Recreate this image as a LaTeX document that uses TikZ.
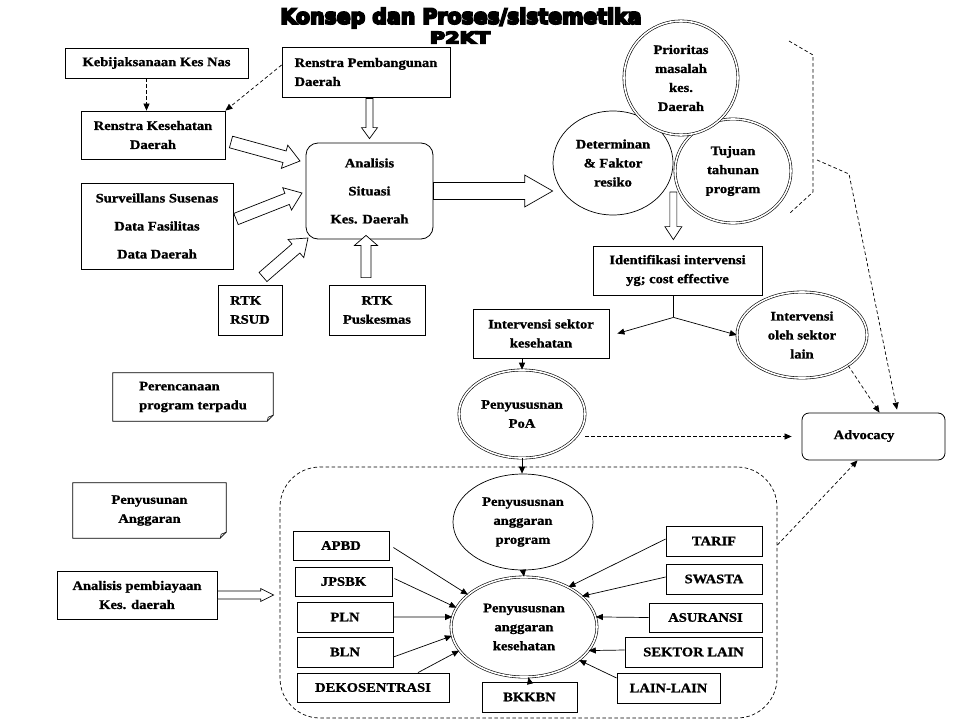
\documentclass[tikz,border=0pt]{standalone}
\usepackage{fontspec}
\usepackage{graphicx}
\setmainfont{Liberation Serif}[FakeStretch=1.12,FakeBold=1.2]
\newfontfamily\titlefont{DejaVu Sans}[FakeBold=9]
\usetikzlibrary{calc,shapes.geometric,arrows.meta}
\tikzset{
  every node/.style={font=\fontsize{13}{19}\selectfont\bfseries},
  box/.style={draw, line width=0.8pt, inner sep=1pt, align=center},
  rbox/.style={box, rounded corners=#1},
  circ/.style={ellipse, draw, fill=white, line width=0.7pt, inner sep=0pt, align=center},
  dcirc/.style={ellipse, draw, fill=white, double, double distance=1.6pt, line width=0.6pt, inner sep=0pt, align=center},
  notebox/.style={inner sep=1pt, align=center},
  dsh/.style={dash pattern=on 3.5pt off 2.5pt, line width=0.7pt},
  tip/.style={-{Triangle[length=7pt,width=6pt]}},
  con/.style={line width=0.7pt},
  barrowstyle/.style={draw, fill=white, line width=0.7pt, line join=miter},
}
\newcommand\barrow[5]{%
  \coordinate (bh) at ($(#2)!#5!(#1)$);
  \draw[barrowstyle] ($(#1)!#3!90:(#2)$) -- ($(bh)!#3!90:(#2)$) -- ($(bh)!#4!90:(#2)$) -- (#2) -- ($(bh)!#4!-90:(#2)$) -- ($(bh)!#3!-90:(#2)$) -- ($(#1)!#3!-90:(#2)$) -- cycle;
}
\newcommand\notedraw[1]{%
  \draw[line width=0.7pt] (#1.north west) -- (#1.north east) -- ([yshift=6pt]#1.south east) -- ([xshift=-6pt]#1.south east) -- (#1.south west) -- cycle;
  \draw[line width=0.6pt] ([yshift=6pt]#1.south east) -- ([xshift=-5pt,yshift=4pt]#1.south east) -- ([xshift=-6pt]#1.south east);
}
\begin{document}
\begin{tikzpicture}[x=1pt,y=-1pt]
\useasboundingbox[fill=white] (0,0) rectangle (960,720);

% title
\node[inner sep=0pt] (title1) at (461,18) {\resizebox{361pt}{16pt}{\titlefont\bfseries Konsep dan Proses/sistemetika}};
\node[inner sep=0pt] (title2) at (460,37.5) {\resizebox{60pt}{12pt}{\titlefont\bfseries P2KT}};

% upper left boxes
\node[box, minimum width=183, minimum height=30] (keb) at (156.5,63) {Kebijaksanaan Kes Nas};
\node[box, minimum width=168, minimum height=50, align=left] (renpem) at (366,72) {Renstra Pembangunan\\Daerah};
\node[box, minimum width=144, minimum height=48] (renkes) at (153,135) {Renstra Kesehatan\\Daerah};
\node[box, minimum width=152, minimum height=86] (surv) at (157,226) {Surveillans Susenas\\[9pt]Data Fasilitas\\[9pt]Data Daerah};
\node[rbox=12pt, minimum width=127, minimum height=96] (anal) at (369.5,191) {Analisis\\[9pt]Situasi\\[9pt]Kes. Daerah};
\node[box, minimum width=64, minimum height=50, align=left] (rsud) at (250,310) {RTK\\RSUD};
\node[box, minimum width=96, minimum height=50] (rpus) at (377,310) {RTK\\Puskesmas};

% circles
\node[circ, minimum width=120, minimum height=104] (det) at (613,163) {Determinan\\\& Faktor\\resiko};
\node[dcirc, minimum width=116, minimum height=104] (tuj) at (733,171) {Tujuan\\tahunan\\program};
\node[dcirc, minimum width=114, minimum height=114] (prior) at (681,78) {Prioritas\\masalah\\kes.\\Daerah};

% middle right
\node[box, minimum width=169, minimum height=49] (ident) at (677.5,270.5) {Identifikasi intervensi\\yg; cost effective};
\node[box, minimum width=136, minimum height=49] (isk) at (541,333.5) {Intervensi sektor\\kesehatan};
\node[dcirc, minimum width=130, minimum height=86] (iol) at (802,335) {Intervensi\\oleh sektor\\lain};
\node[dcirc, minimum width=126, minimum height=88] (poa) at (522,414) {Penyususnan\\PoA};
\node[rbox=7pt, minimum width=143, minimum height=47] (adv) at (873.5,436.5) {};
\node (advt) at (864,436) {Advocacy};

% notes
\node[notebox, minimum width=160, minimum height=48, align=left] (peren) at (193,397) {Perencanaan\\program terpadu};
\notedraw{peren}
\node[notebox, minimum width=153, minimum height=55] (penyang) at (149.5,510.5) {Penyusunan\\Anggaran};
\notedraw{penyang}
\node[box, minimum width=160, minimum height=48] (anpem) at (137,595) {Analisis pembiayaan\\Kes. daerah};

% region
\node[draw, dsh, rounded corners=40pt, minimum width=497, minimum height=251, inner sep=0pt] (region) at (528.5,592.5) {};

% lower ellipses
\node[circ, minimum width=140, minimum height=96] (prog) at (523,522) {Penyususnan\\anggaran\\program};
\node[dcirc, minimum width=146, minimum height=100] (kes) at (524,627) {Penyususnan\\anggaran\\kesehatan};

% source boxes
\node[box, minimum width=96, minimum height=29] (apbd) at (341,545.5) {APBD};
\node[box, minimum width=97, minimum height=29] (jpsbk) at (343.5,581.5) {JPSBK};
\node[box, minimum width=96, minimum height=30] (pln) at (345,617) {PLN};
\node[box, minimum width=96, minimum height=30] (bln) at (345,652) {BLN};
\node[box, minimum width=152, minimum height=29] (deko) at (373,687.5) {DEKOSENTRASI};
\node[box, minimum width=96, minimum height=30] (tarif) at (714,541) {TARIF};
\node[box, minimum width=96, minimum height=30] (swasta) at (714,579) {SWASTA};
\node[box, minimum width=113, minimum height=29] (asur) at (705.5,617.5) {ASURANSI};
\node[box, minimum width=137, minimum height=30] (sektor) at (693.5,652) {SEKTOR LAIN};
\node[box, minimum width=103, minimum height=30] (lain) at (668.5,688) {LAIN-LAIN};
\node[box, minimum width=95, minimum height=30] (bkkbn) at (529.5,697) {BKKBN};

% block arrows
\coordinate (a1s) at ([yshift=-1pt]renpem.south -| anal.north);
\coordinate (a1e) at ([yshift=4pt]anal.north);
\barrow{a1s}{a1e}{3.5pt}{8pt}{11pt}
\coordinate (a2s) at (231,142);
\coordinate (a2e) at (300,161);
\barrow{a2s}{a2e}{6pt}{12pt}{16pt}
\coordinate (a3s) at (236,219);
\coordinate (a3e) at (302,193);
\barrow{a3s}{a3e}{6pt}{12pt}{16pt}
\coordinate (a4s) at (263,277);
\coordinate (a4e) at (308,238);
\barrow{a4s}{a4e}{6pt}{12pt}{16pt}
\coordinate (a5s) at ([xshift=-11pt,yshift=7pt]rpus.north);
\coordinate (a5e) at ([xshift=-11pt,yshift=4pt]rpus.north |- anal.south);
\barrow{a5s}{a5e}{5pt}{11.5pt}{10pt}
\coordinate (a6s) at (anal.east);
\coordinate (a6e) at (det.west |- anal.east);
\barrow{a6s}{a6e}{8.5pt}{16pt}{28pt}
\coordinate (a7s) at ([yshift=-29pt]det.east);
\coordinate (a7e) at ([yshift=6pt]det.east |- ident.north);
\barrow{a7s}{a7e}{3.5pt}{8.5pt}{13pt}
\coordinate (a8s) at (anpem.east);
\coordinate (a8e) at ([xshift=-6pt]region.west |- anpem.east);
\barrow{a8s}{a8e}{4pt}{6.5pt}{13pt}

% dashed arrows upper left
\draw[dsh, tip] ([xshift=-10pt]keb.south) -- ([xshift=-10pt]keb.south |- renkes.north);
\draw[dsh, tip] ([yshift=7pt]renpem.west) -- (renkes.north east);

% identifikasi fork
\draw[con] ([xshift=-4pt]ident.south) -- ++(0,22) coordinate (fork);
\draw[con, tip] (fork) -- ([xshift=8pt]isk.east);
\draw[con, tip] (fork) -- (iol.west);
\draw[con, tip] (isk.south -| poa.north) -- (poa.north);
\draw[con, tip] (poa.south) -- (poa.south |- prog.north);
\draw[con, tip] (prog.south) -- (kes.north);

% advocacy dashed
\draw[dsh, tip] (poa.east |- adv.west) -- ([xshift=-10pt]adv.west);
\draw[dsh, tip] (iol.south east) -- ([xshift=6pt]adv.north);
\coordinate (b1) at (789,41);
\coordinate (b2) at (813,55);
\coordinate (b3) at (813,192);
\coordinate (b4) at (790,213);
\draw[dsh] (b1) -- (b2) -- (b3) -- (b4);
\coordinate (c1) at (817,160);
\coordinate (c2) at (849,174);
\draw[dsh, tip] (c1) -- (c2) -- ([xshift=23.5pt,yshift=3pt]adv.north);
\draw[dsh, tip] ([yshift=47.5pt]region.east) -- ([xshift=-16pt]adv.south);

% arrows into kesehatan
\draw[con, tip] ([xshift=4pt,yshift=-2pt]apbd.east) -- (kes.150);
\draw[con, tip] ([xshift=2pt,yshift=3pt]jpsbk.east) -- (kes.164);
\draw[con, tip] (pln.east) -- (kes.172);
\draw[con, tip] ([yshift=-5pt]bln.east) -- (kes.187);
\draw[con, tip] ([xshift=45pt]deko.north) -- (kes.200);
\draw[con, tip] ([yshift=2pt]tarif.west) -- (kes.42);
\draw[con, tip] ([yshift=2pt]swasta.west) -- (kes.28);
\draw[con, tip] (asur.west) -- (kes.8);
\draw[con, tip] ([yshift=2pt]sektor.west) -- (kes.-20);
\draw[con, tip] ([yshift=10pt]lain.west) -- (kes.-31);
\draw[con, tip] (bkkbn.north) -- (kes.-85);
\end{tikzpicture}
\end{document}
